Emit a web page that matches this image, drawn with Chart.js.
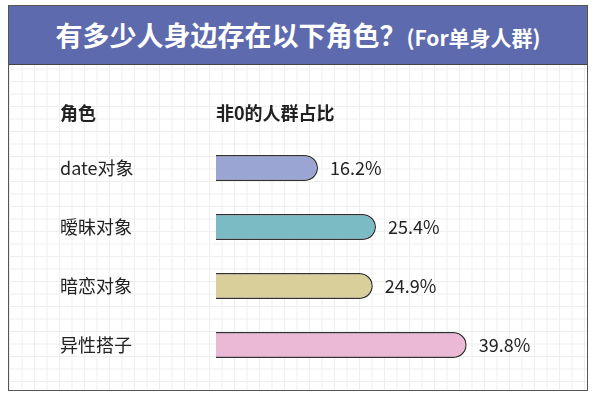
<!DOCTYPE html>
<html>
<head>
<meta charset="utf-8">
<script src="https://cdn.jsdelivr.net/npm/chart.js@4/dist/chart.umd.min.js"></script>
<style>
  body { margin: 0; background: #fff; }
  #wrap { position: relative; width: 600px; height: 401px; }
  #box {
    position: absolute; left: 8px; top: 5px; width: 580px; height: 386px;
    border: 1.5px solid #555; box-sizing: border-box;
    background-color: #fff;
    background-image:
      linear-gradient(#eeeeee 1px, transparent 1px),
      linear-gradient(90deg, #eeeeee 1px, transparent 1px);
    background-size: 12.5px 12.5px;
  }
  #title {
    position: absolute; left: 0; top: 0; width: 100%; height: 59px;
    background: #5e6aae; border-bottom: 1.5px solid #444;
    color: #fff; font: bold 27px "Noto Sans CJK SC", sans-serif;
    line-height: 58px; text-align: center; box-sizing: border-box;
    white-space: nowrap;
  }
  #title small { font-size: 21px; }
  canvas { position: absolute; left: 0; top: 0; }
</style>
</head>
<body>
<div id="wrap">
  <div id="box"><div id="title">有多少人身边存在以下角色？<small>(For单身人群)</small></div></div>
  <canvas id="c" width="600" height="401"></canvas>
</div>
<script>
  // --- Data ---
  const roles = ['date对象', '暧昧对象', '暗恋对象', '异性搭子'];
  const shares = [16.2, 25.4, 24.9, 39.8];
  const barColors = ['#9aa5d3', '#7bbcc4', '#d9cf9b', '#ebb8d6'];
  const headers = ['角色', '非0的人群占比'];

  const font = '"Noto Sans CJK SC", sans-serif';

  // Draws headers, category labels and value labels next to the bars.
  const labelPlugin = {
    id: 'labels',
    afterDatasetsDraw(chart) {
      const ctx = chart.ctx;
      const y = chart.scales.y;
      const meta = chart.getDatasetMeta(0);
      ctx.save();
      ctx.fillStyle = '#222';
      ctx.textBaseline = 'middle';
      ctx.font = 'bold 18px ' + font;
      ctx.fillText(headers[0], 60, 113);
      ctx.fillText(headers[1], chart.chartArea.left, 113);
      ctx.font = '18px ' + font;
      roles.forEach((r, i) => {
        const cy = y.getPixelForValue(i);
        ctx.fillText(r, 60, cy);
        ctx.fillText(shares[i].toFixed(1) + '%', meta.data[i].x + 12, cy);
      });
      ctx.restore();
    }
  };

  new Chart(document.getElementById('c'), {
    type: 'bar',
    data: {
      labels: roles,
      datasets: [{
        data: shares,
        backgroundColor: barColors,
        borderColor: '#333',
        borderWidth: 1.5,
        borderRadius: { topRight: 13, bottomRight: 13 },
        borderSkipped: 'left',
        categoryPercentage: 1,
        barPercentage: 0.44
      }]
    },
    options: {
      indexAxis: 'y',
      responsive: false,
      animation: false,
      layout: { padding: { left: 216, right: 37.5, top: 138.5, bottom: 26.5 } },
      plugins: { legend: { display: false }, tooltip: { enabled: false } },
      scales: {
        x: { min: 0, max: 55, display: false },
        y: { display: false }
      }
    },
    plugins: [labelPlugin]
  });
</script>
</body>
</html>
